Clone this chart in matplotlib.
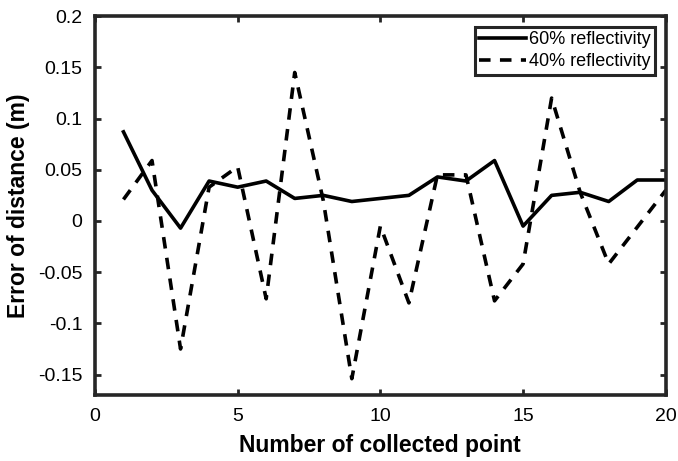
import matplotlib
matplotlib.use('Agg')
import matplotlib.pyplot as plt

plt.rcParams['font.family'] = ['Liberation Sans', 'DejaVu Sans']

points = list(range(1, 21))
refl60 = [0.087, 0.030, -0.007, 0.039, 0.033, 0.039, 0.022, 0.025, 0.019, 0.022,
          0.025, 0.043, 0.039, 0.059, -0.005, 0.025, 0.028, 0.019, 0.040, 0.040]
refl40 = [0.021, 0.059, -0.125, 0.033, 0.053, -0.076, 0.145, 0.020, -0.154, -0.005,
          -0.080, 0.045, 0.045, -0.078, -0.042, 0.120, 0.028, -0.042, -0.006, 0.030]
xticks = [0, 5, 10, 15, 20]
yticks = [-0.15, -0.1, -0.05, 0, 0.05, 0.1, 0.15, 0.2]
ytick_labels = ['-0.15', '-0.1', '-0.05', '0', '0.05', '0.1', '0.15', '0.2']

fig = plt.figure(figsize=(6.78, 4.61), dpi=100)
ax = fig.add_axes([0.140, 0.143, 0.842, 0.822])

ax.plot(points, refl60, color='black', lw=2.6, label='60% reflectivity')
ax.plot(points, refl40, color='black', lw=2.6, linestyle=(0, (3.2, 2.6)),
        label='40% reflectivity')

ax.set_xlim(0, 20)
ax.set_ylim(-0.17, 0.2)
ax.set_xticks(xticks)
ax.set_xticklabels([str(t) for t in xticks])
ax.set_yticks(yticks)
ax.set_yticklabels(ytick_labels)

for s in ax.spines.values():
    s.set_linewidth(2.6)
    s.set_color('#262626')
ax.tick_params(direction='in', length=4, width=2, color='#262626',
               top=True, right=True, labelsize=14, pad=9)

ax.set_xlabel('Number of collected point', fontsize=16.5, fontweight='bold', labelpad=7)
ax.set_ylabel('Error of distance (m)', fontsize=16.5, fontweight='bold', labelpad=6)

leg = ax.legend(loc='upper right', fontsize=13, fancybox=False, framealpha=1,
                edgecolor='#262626', handlelength=2.6, handletextpad=0.15,
                borderpad=0.25, labelspacing=0.25, borderaxespad=0.6)
leg.get_frame().set_linewidth(2.2)

fig.savefig('out.png', dpi=100)
